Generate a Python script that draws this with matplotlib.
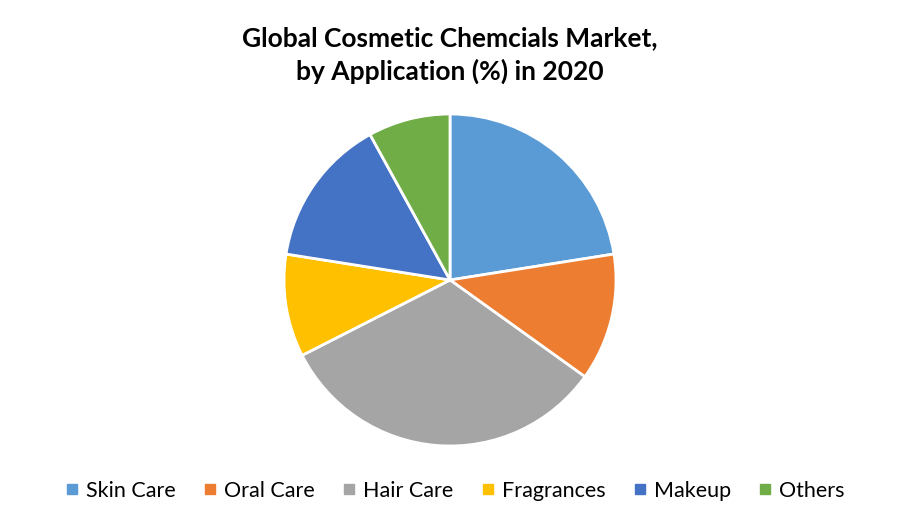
import matplotlib
matplotlib.use('Agg')
import matplotlib.pyplot as plt
from matplotlib.lines import Line2D

labels = ['Skin Care', 'Oral Care', 'Hair Care', 'Fragrances', 'Makeup', 'Others']
shares = [22.5, 12.4, 32.6, 10.0, 14.5, 8.0]
colors = ['#5B9BD5', '#ED7D31', '#A5A5A5', '#FFC000', '#4472C4', '#70AD47']

plt.rcParams['font.family'] = ['Lato', 'DejaVu Sans']

fig = plt.figure(figsize=(9, 5.25), dpi=100)

# pie centred at (450, 280) px, radius ~166 px
r_w, r_h = 166 / 900, 166 / 525
ax = fig.add_axes([0.5 - r_w, 1 - 280 / 525 - r_h, 2 * r_w, 2 * r_h])
ax.pie(shares, colors=colors, startangle=90, counterclock=False,
       wedgeprops=dict(edgecolor='white', linewidth=2))
ax.set_xlim(-1, 1)
ax.set_ylim(-1, 1)
ax.set_aspect('equal')

fig.text(0.5, 1 - 38 / 525, 'Global Cosmetic Chemcials Market,', ha='center', va='center',
         fontsize=19, fontweight='bold')
fig.text(0.5, 1 - 71 / 525, 'by Application (%) in 2020', ha='center', va='center',
         fontsize=19, fontweight='bold')

handles = [Line2D([0], [0], marker='s', linestyle='none', markersize=7,
                  markerfacecolor=c, markeredgecolor=c) for c in colors]
fig.legend(handles, labels, loc='center', bbox_to_anchor=(455 / 900, 1 - 491 / 525),
           ncol=6, frameon=False, fontsize=15.5, handlelength=0.6, handletextpad=0.35,
           columnspacing=1.3)

plt.savefig('out.png', dpi=100)
